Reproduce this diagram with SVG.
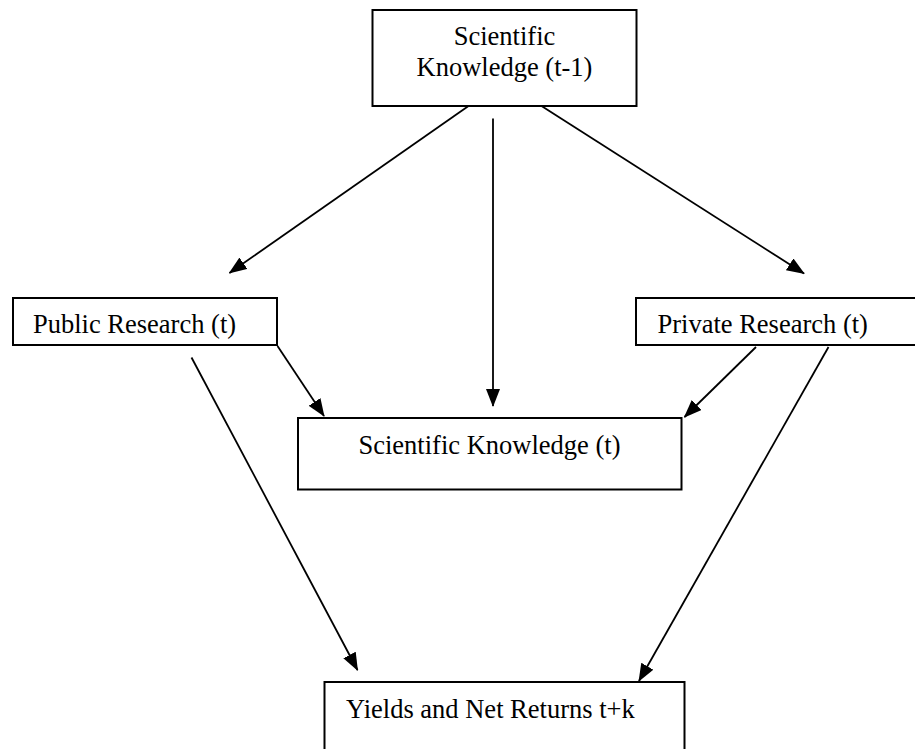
<svg xmlns="http://www.w3.org/2000/svg" width="915" height="749" viewBox="0 0 915 749">
<defs>
<marker id="ah" markerWidth="18" markerHeight="14" refX="17" refY="7" orient="auto" markerUnits="userSpaceOnUse" viewBox="0 0 18 14">
<path d="M0,0 L18,7 L0,14 z" fill="#000"/>
</marker>
<style>
.box{fill:#fff;stroke:#000;stroke-width:2}
.t{font-family:"Liberation Serif","Times New Roman",serif;font-size:26.5px;fill:#000}
.c{stroke:#000;stroke-width:1.8;fill:none;marker-end:url(#ah)}
</style>
</defs>
<rect width="915" height="749" fill="#fff"/>
<g id="connectors">
<line class="c" x1="468.5" y1="106" x2="229.5" y2="273"/>
<line class="c" x1="493" y1="118.5" x2="493" y2="406"/>
<line class="c" x1="541.5" y1="106" x2="804" y2="273.5"/>
<line class="c" x1="277.5" y1="346" x2="324" y2="416"/>
<line class="c" x1="191.5" y1="357.5" x2="357.5" y2="670"/>
<line class="c" x1="756" y1="347" x2="684.5" y2="417"/>
<line class="c" x1="828.5" y1="347" x2="639" y2="681"/>
</g>
<g id="n1">
<rect class="box" x="372.5" y="10" width="264" height="96"/>
<text class="t" x="504.5" y="45" text-anchor="middle">Scientific</text>
<text class="t" x="504.5" y="76" text-anchor="middle">Knowledge (t-1)</text>
</g>
<g id="n2">
<rect class="box" x="13" y="298" width="264" height="47"/>
<text class="t" x="33" y="333">Public Research (t)</text>
</g>
<g id="n3">
<rect class="box" x="636" y="298" width="290" height="47"/>
<text class="t" x="657.5" y="333">Private Research (t)</text>
</g>
<g id="n4">
<rect class="box" x="298" y="418" width="383.5" height="71.5"/>
<text class="t" x="489.5" y="453.5" text-anchor="middle">Scientific Knowledge (t)</text>
</g>
<g id="n5">
<rect class="box" x="324.5" y="682" width="360" height="80"/>
<text class="t" x="346" y="718">Yields and Net Returns t+k</text>
</g>
</svg>
